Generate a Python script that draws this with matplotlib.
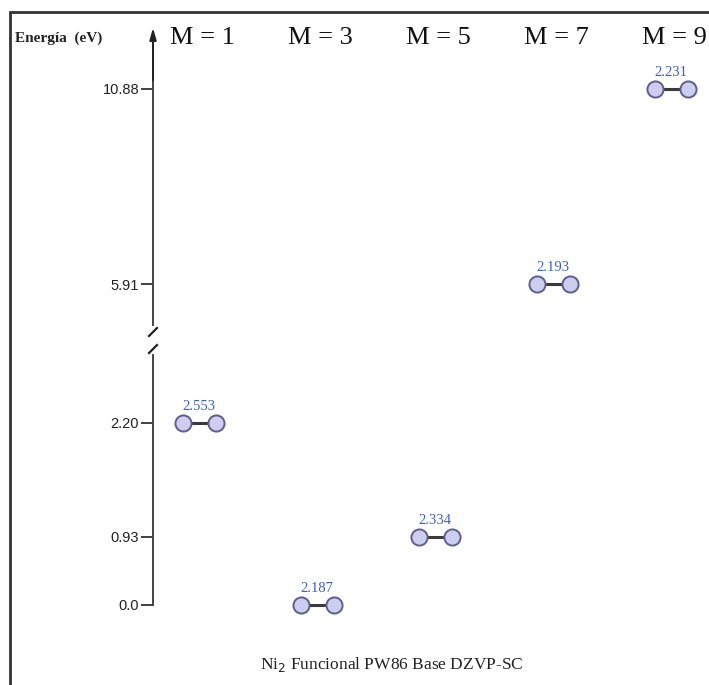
import numpy as np
import matplotlib
matplotlib.use("Agg")
import matplotlib.pyplot as plt
from matplotlib.patches import Rectangle
from matplotlib.transforms import ScaledTranslation

# ---- data ----
multiplicities = ["M = 1", "M = 3", "M = 5", "M = 7", "M = 9"]
energies = [2.20, 0.0, 0.93, 5.91, 10.88]          # relative energy (eV)
bond_lengths = ["2.553", "2.187", "2.334", "2.193", "2.231"]
tick_values = [0.0, 0.93, 2.20, 5.91, 10.88]
tick_labels = ["0.0", "0.93", "2.20", "5.91", "10.88"]
title_text = r"Ni$_2$ Funcional PW86 Base DZVP-SC"
ylabel_text = "Energía  (eV)"

# schematic (non-linear) energy axis: energy -> drawing position
E_knots = np.array([-3.0, 0.0, 0.93, 2.20, 5.91, 10.88, 20.0])
P_knots = np.array([-220.0, 0.0, 68.0, 182.0, 321.0, 516.0, 874.0])

def fwd(e):
    return np.interp(e, E_knots, P_knots)

def inv(p):
    return np.interp(p, P_knots, E_knots)

W, H = 709, 685
fig = plt.figure(figsize=(W / 100, H / 100), dpi=100)
fig.patch.set_facecolor("white")

left_px, right_px = 153, 709
bottom_px, top_px = 605, 25     # from image top
ax = fig.add_axes([left_px / W, (H - bottom_px) / H,
                   (right_px - left_px) / W, (bottom_px - top_px) / H])
ax.set_yscale("function", functions=(fwd, inv))
ax.set_ylim(0.0, float(inv(bottom_px - top_px)))
col0, colw = 199.0, 118.0
ax.set_xlim((left_px - col0) / colw, (right_px - col0) / colw)
ax.patch.set_alpha(0)
for s in ax.spines.values():
    s.set_visible(False)
ax.set_xticks([])

ax.set_yticks(tick_values)
ax.set_yticklabels(tick_labels, fontfamily="Liberation Sans", fontsize=10.5, color="#222222")
ax.yaxis.set_minor_locator(matplotlib.ticker.NullLocator())
ax.tick_params(axis="y", direction="out", length=9, width=1.3, color="#333333", pad=1)

# energy axis line with break
axcol = "#444444"
ytr = ax.get_yaxis_transform()
brk_lo, brk_hi = float(inv(605 - 355)), float(inv(605 - 325))
ax.plot([0, 0], [0.0, brk_lo], color=axcol, lw=1.4, transform=ytr, clip_on=False)
ax.plot([0, 0], [brk_hi, float(inv(605 - 38))], color=axcol, lw=1.4, transform=ytr, clip_on=False)
ax.annotate("", xy=(0, 1.0), xycoords="axes fraction", xytext=(0, 0.9),
            arrowprops=dict(arrowstyle="-|>,head_width=0.2,head_length=0.7",
                            color="#222222", lw=1.4))
# slanted break marks
for yb in (float(inv(605 - 332)), float(inv(605 - 349))):
    t1 = ytr + ScaledTranslation(-4 / 100, -4 / 100, fig.dpi_scale_trans)
    t2 = ytr + ScaledTranslation(4 / 100, 4 / 100, fig.dpi_scale_trans)
    x1, y1 = t1.transform((0, yb))
    x2, y2 = t2.transform((0, yb))
    fig.add_artist(plt.Line2D([x1 / W, x2 / W], [y1 / H, y2 / H],
                              transform=fig.transFigure, color="#222222", lw=1.6))

# molecules
dx = 16.5 / colw
for i, (e, b) in enumerate(zip(energies, bond_lengths)):
    ax.plot([i - dx, i + dx], [e, e], color="#3a3a3a", lw=2.2, zorder=2, clip_on=False)
    ax.scatter([i - dx, i + dx], [e, e], s=135, facecolor="#cdcdf0",
               edgecolor="#5e5e8c", linewidth=1.4, zorder=3, clip_on=False)
    ax.annotate(b, xy=(i, e), xytext=(0, 7.5), textcoords="offset points",
                ha="center", va="bottom", fontsize=10.5, color="#3b5fc4",
                fontfamily="Liberation Serif")

# column headers
for i, m in enumerate(multiplicities):
    x_fig = (col0 + colw * i + 3) / W
    fig.text(x_fig, 1 - 38 / H, m, ha="center", va="center",
             fontsize=19, fontfamily="Liberation Serif", color="#111111")

fig.text(15 / W, 1 - 38 / H, ylabel_text, ha="left", va="center",
         fontsize=11, fontweight="bold", fontfamily="Liberation Serif", color="#222222")
fig.text(392 / W, 1 - 664 / H, title_text, ha="center", va="center",
         fontsize=12.5, fontfamily="Liberation Serif", color="#222222")

# frame around the figure
fig.add_artist(Rectangle((10 / W, -0.2), 1.2, 1.2 - 12 / H,
                         transform=fig.transFigure, fill=False,
                         edgecolor="#333333", lw=2.0))

fig.savefig("out.png", dpi=100, facecolor="white")
